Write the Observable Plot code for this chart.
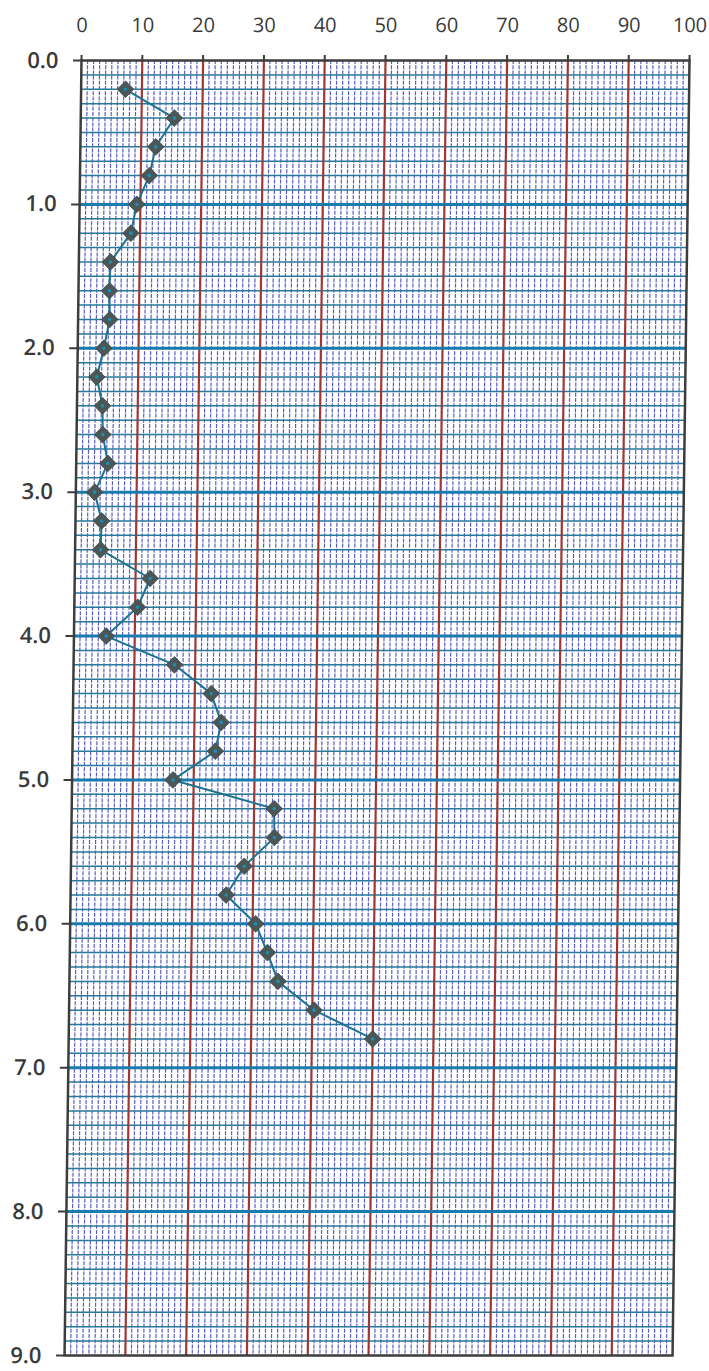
<!DOCTYPE html>
<html>
<head>
<meta charset="utf-8">
<script src="https://cdn.jsdelivr.net/npm/d3@7"></script>
<script src="https://cdn.jsdelivr.net/npm/@observablehq/plot@0.6"></script>
<style>
  html, body { margin: 0; padding: 0; background: #ffffff; }
  #chart svg { display: block; }
</style>
</head>
<body>
<div id="chart"></div>
<script>
// Depth (y, reversed) and measured value (x)
const depth  = [0.2, 0.4, 0.6, 0.8, 1.0, 1.2, 1.4, 1.6, 1.8, 2.0, 2.2, 2.4, 2.6, 2.8, 3.0, 3.2, 3.4,
                3.6, 3.8, 4.0, 4.2, 4.4, 4.6, 4.8, 5.0, 5.2, 5.4, 5.6, 5.8, 6.0, 6.2, 6.4, 6.6, 6.8];
const values = [7.3, 15.4, 12.4, 11.4, 9.4, 8.5, 5.2, 5.1, 5.2, 4.3, 3.2, 4.2, 4.3, 5.2, 3.1, 4.3, 4.2,
                12.4, 10.4, 5.3, 16.6, 22.7, 24.4, 23.5, 16.6, 33.3, 33.4, 28.5, 25.6, 30.5, 32.5, 34.3, 40.3, 50.0];

const xTicks = [0, 10, 20, 30, 40, 50, 60, 70, 80, 90, 100];
const yTicks = [0, 1, 2, 3, 4, 5, 6, 7, 8, 9];

// graph-paper lines (scale values)
const paperX    = d3.range(1, 100, 1).filter(v => v % 10 !== 0);
const paperRedX = [10, 20, 30, 40, 50, 60, 70, 80, 90];
const paperY    = d3.range(1, 90, 1).map(v => v / 10).filter((v, i) => (i + 1) % 10 !== 0);
const paperBoldY = [1, 2, 3, 4, 5, 6, 7, 8];

const data = depth.map((d, i) => ({depth: d, value: values[i]}));

const chart = Plot.plot({
  width: 709,
  height: 1371,
  marginTop: 60,
  marginLeft: 81,
  marginRight: 20,
  marginBottom: 16,
  style: {fontFamily: "'Open Sans', Lato, sans-serif", background: "#ffffff", overflow: "visible"},
  x: {domain: [0, 100]},
  y: {domain: [0, 9], reverse: true},
  marks: [
    Plot.ruleX(paperX, {stroke: "#5a5fc2", strokeWidth: 1.2, strokeDasharray: "4,1.2"}),
    Plot.ruleY(paperY, {stroke: "#28799c", strokeWidth: 1.5}),
    Plot.ruleX(paperRedX, {stroke: "#a03636", strokeWidth: 2.2}),
    Plot.ruleY(paperBoldY, {stroke: "#1a7cae", strokeWidth: 3}),
    Plot.frame({stroke: "#3d3d3d", strokeWidth: 2.5}),
    Plot.axisX(xTicks, {
      anchor: "top", tickSize: 6, tickPadding: 23, fontSize: 20,
      stroke: "#3d3d3d", strokeWidth: 2, fill: "#3a3a3a", label: null
    }),
    Plot.axisY(yTicks, {
      anchor: "left", tickSize: 8, tickPadding: 15, fontSize: 22, fontWeight: 600,
      tickFormat: d3.format(".1f"),
      stroke: "#3d3d3d", strokeWidth: 2, fill: "#3a3a3a", label: null
    }),
    Plot.line(data, {x: "value", y: "depth", stroke: "#1b7391", strokeWidth: 2}),
    Plot.dot(data, {x: "value", y: "depth", symbol: "diamond2", r: 7.5, fill: "#4b5656", stroke: "#3f4848", strokeWidth: 0.8}),
    Plot.dot(data, {x: "value", y: "depth", r: 1.8, fill: "#1b8fb5", stroke: "none"})
  ]
});

chart.style.transformOrigin = "0px 60px";
chart.style.transform = "skewX(-0.75deg)";
document.getElementById("chart").appendChild(chart);
</script>
</body>
</html>
